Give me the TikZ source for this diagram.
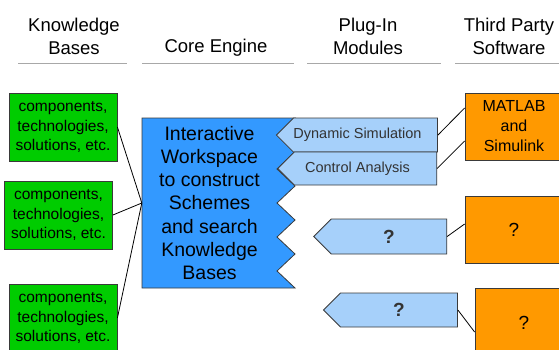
\documentclass[tikz,border=0pt]{standalone}
\usepackage{fontspec}
\setmainfont{Liberation Sans}
\usetikzlibrary{shapes.symbols}
\definecolor{boxline}{HTML}{3A3A3A}
\definecolor{kbgreen}{HTML}{00CC00}
\definecolor{coreblue}{HTML}{3399FF}
\definecolor{plugblue}{HTML}{A6D0FA}
\definecolor{swobange}{HTML}{FF9900}
\definecolor{headgray}{HTML}{A8A8A8}
\tikzset{
  heading/.style={align=center,inner sep=0pt,font=\fontsize{18.5}{23.5}\selectfont},
  headline/.style={headgray,line width=1pt},
  kbbox/.style={draw=boxline,fill=kbgreen,line width=0.8pt,minimum width=108pt,minimum height=68pt,
    inner sep=0pt,align=center,font=\fontsize{15.5}{19.5}\selectfont},
  plugin/.style={signal,signal to=west,signal from=nowhere,signal pointer angle=90,
    draw=boxline,fill=plugblue,line width=0.8pt,inner sep=0pt,text=black!80},
  swbox/.style={draw=boxline,fill=swobange,line width=0.8pt,minimum width=98pt,
    inner sep=0pt,align=center,font=\fontsize{16}{20}\selectfont},
  link/.style={black,line width=0.8pt}
}

\begin{document}
\begin{tikzpicture}[x=1pt,y=-1pt]
\useasboundingbox (0,0) rectangle (559,349);
% column headings
\node[heading] (hkb)   at (74,36.5)  {Knowledge\\Bases};
\node[heading] (hcore) at (216,48)   {Core Engine};
\node[heading] (hplug) at (368,36.5) {Plug-In\\Modules};
\node[heading] (hsoft) at (509,36.5) {Third Party\\Software};
\draw[headline] (18,63) -- (127,63);
\draw[headline] (142,63) -- (294,63);
\draw[headline] (307,63) -- (441,63);
\draw[headline] (455,63) -- (559,63);
% knowledge bases
\node[kbbox] (kb1) at (63,127)   {components,\\technologies,\\solutions, etc.};
\node[kbbox] (kb2) at (58.5,215) {components,\\technologies,\\solutions, etc.};
\node[kbbox] (kb3) at (63,318)   {components,\\technologies,\\solutions, etc.};
% core engine
\draw[boxline,fill=coreblue,line width=0.8pt] (142,118) -- (295,118)
  -- (277,135) -- (295,152) -- (277,169) -- (295,186) -- (277,203)
  -- (295,220) -- (277,237) -- (295,254) -- (277,271) -- (295,288)
  -- (142,288) -- cycle;
\node[minimum width=135pt,minimum height=170pt,inner sep=0pt,align=center,
  font=\fontsize{19.5}{23.3}\selectfont] (core) at (209.5,203)
  {Interactive\\Workspace\\to construct\\Schemes\\and search\\Knowledge\\Bases};
% plug-in modules
\node[plugin,minimum width=159pt,minimum height=34pt,font=\fontsize{14.5}{17}\selectfont]
  (dynsim) at (365.5,135) {Dynamic Simulation\hspace*{16pt}};
\node[plugin,minimum width=159pt,minimum height=33pt,font=\fontsize{14.5}{17}\selectfont]
  (ctrl) at (365.5,168.5) {Control Analysis\hspace*{16pt}};
\node[plugin,minimum width=133pt,minimum height=35pt,font=\bfseries\fontsize{19}{20}\selectfont]
  (plugA) at (389,236.5) {?};
\node[plugin,minimum width=134pt,minimum height=34pt,font=\bfseries\fontsize{19}{20}\selectfont]
  (plugB) at (399,310) {?};
% third party software
\node[swbox,minimum height=67pt] (matlab) at (514,126.5) {MATLAB\\and\\Simulink};
\node[swbox,minimum height=67pt,font=\fontsize{19}{20}\selectfont] (softA) at (514,229.5) {?};
\node[swbox,minimum height=70pt,font=\fontsize{19}{20}\selectfont] (softB) at (524,323)   {?};
% links
\draw[link] (kb1.east) -- (core.west);
\draw[link] (kb2.east) -- (core.west);
\draw[link] (kb3.east) -- (core.west);
\draw[link] (dynsim.east) -- ([yshift=18.5pt]matlab.west);
\draw[link] (ctrl.east) -- ([yshift=-14.5pt]matlab.west);
\draw[link] (plugA.east) -- ([yshift=5.5pt]softA.west);
\draw[link] (plugB.east) -- ([yshift=-9pt]softB.west);
\end{tikzpicture}
\end{document}
